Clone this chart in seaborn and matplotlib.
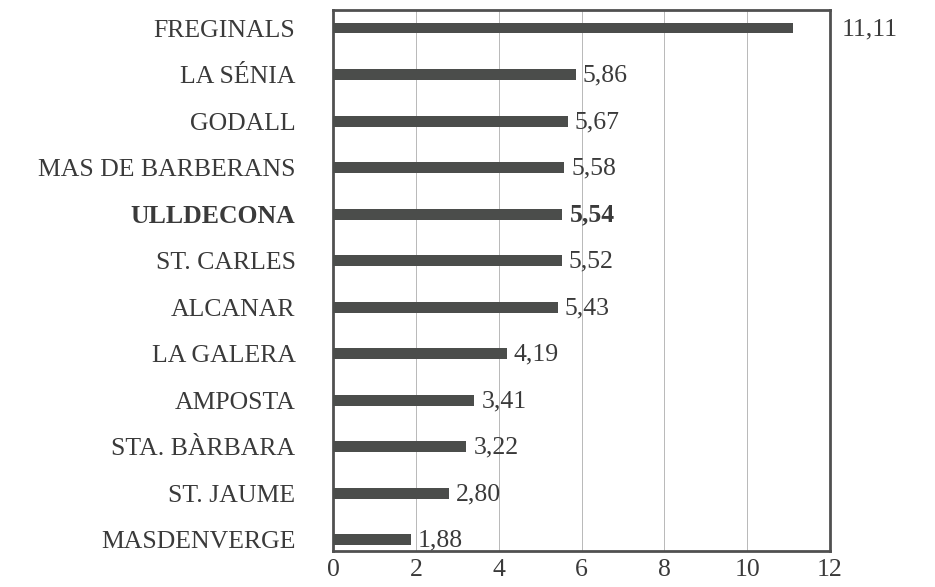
import matplotlib
matplotlib.use("Agg")
import matplotlib.pyplot as plt
import seaborn as sns
import pandas as pd

municipis = ["FREGINALS", "LA SÉNIA", "GODALL", "MAS DE BARBERANS", "ULLDECONA",
             "ST. CARLES", "ALCANAR", "LA GALERA", "AMPOSTA", "STA. BÀRBARA",
             "ST. JAUME", "MASDENVERGE"]
valors = [11.11, 5.86, 5.67, 5.58, 5.54, 5.52, 5.43, 4.19, 3.41, 3.22, 2.80, 1.88]
etiquetes = ["11,11", "5,86", "5,67", "5,58", "5,54", "5,52", "5,43", "4,19",
             "3,41", "3,22", "2,80", "1,88"]
destacat = "ULLDECONA"
xticks = [0, 2, 4, 6, 8, 10, 12]

df = pd.DataFrame({"municipi": municipis, "valor": valors})

sns.set_theme(style="white")
plt.rcParams["font.family"] = ["Liberation Serif", "DejaVu Serif"]

fig = plt.figure(figsize=(9.35, 5.87), dpi=100)
ax = fig.add_axes([333 / 935, 1 - 551 / 587, (830 - 333) / 935, (551 - 10) / 587])

txt = "#3a3a3a"
fs = 18.5
sns.barplot(data=df, x="valor", y="municipi", orient="h", color="#4b4d4b",
            saturation=1, width=0.23, linewidth=0, edgecolor="none", ax=ax, zorder=3)

ax.set_xlim(0, 12)
ax.set_ylim(len(municipis) - 1 + 0.24, -0.39)
ax.set_xticks(xticks)
ax.set_xticklabels([str(t) for t in xticks], fontsize=fs, color=txt)
ax.tick_params(axis="x", length=0, pad=6)
ax.tick_params(axis="y", length=0, pad=27)
for lab in ax.get_yticklabels():
    lab.set_fontsize(fs)
    lab.set_color(txt)
    if lab.get_text() == destacat:
        lab.set_fontweight("bold")
ax.set_xlabel("")
ax.set_ylabel("")
for x in xticks[1:-1]:
    ax.axvline(x, color="#b8b8b8", lw=0.7, zorder=1)
for s in ax.spines.values():
    s.set_color("#505050")
    s.set_linewidth(2)

for i, (v, lab, m) in enumerate(zip(valors, etiquetes, municipis)):
    xpos = 12.27 if v > 10 else v + 0.17
    ax.text(xpos, i + 0.02, lab, va="center", ha="left", fontsize=fs, color=txt,
            fontweight="bold" if m == destacat else "normal", clip_on=False, zorder=4)

fig.savefig("out.png", dpi=100, facecolor="white")
